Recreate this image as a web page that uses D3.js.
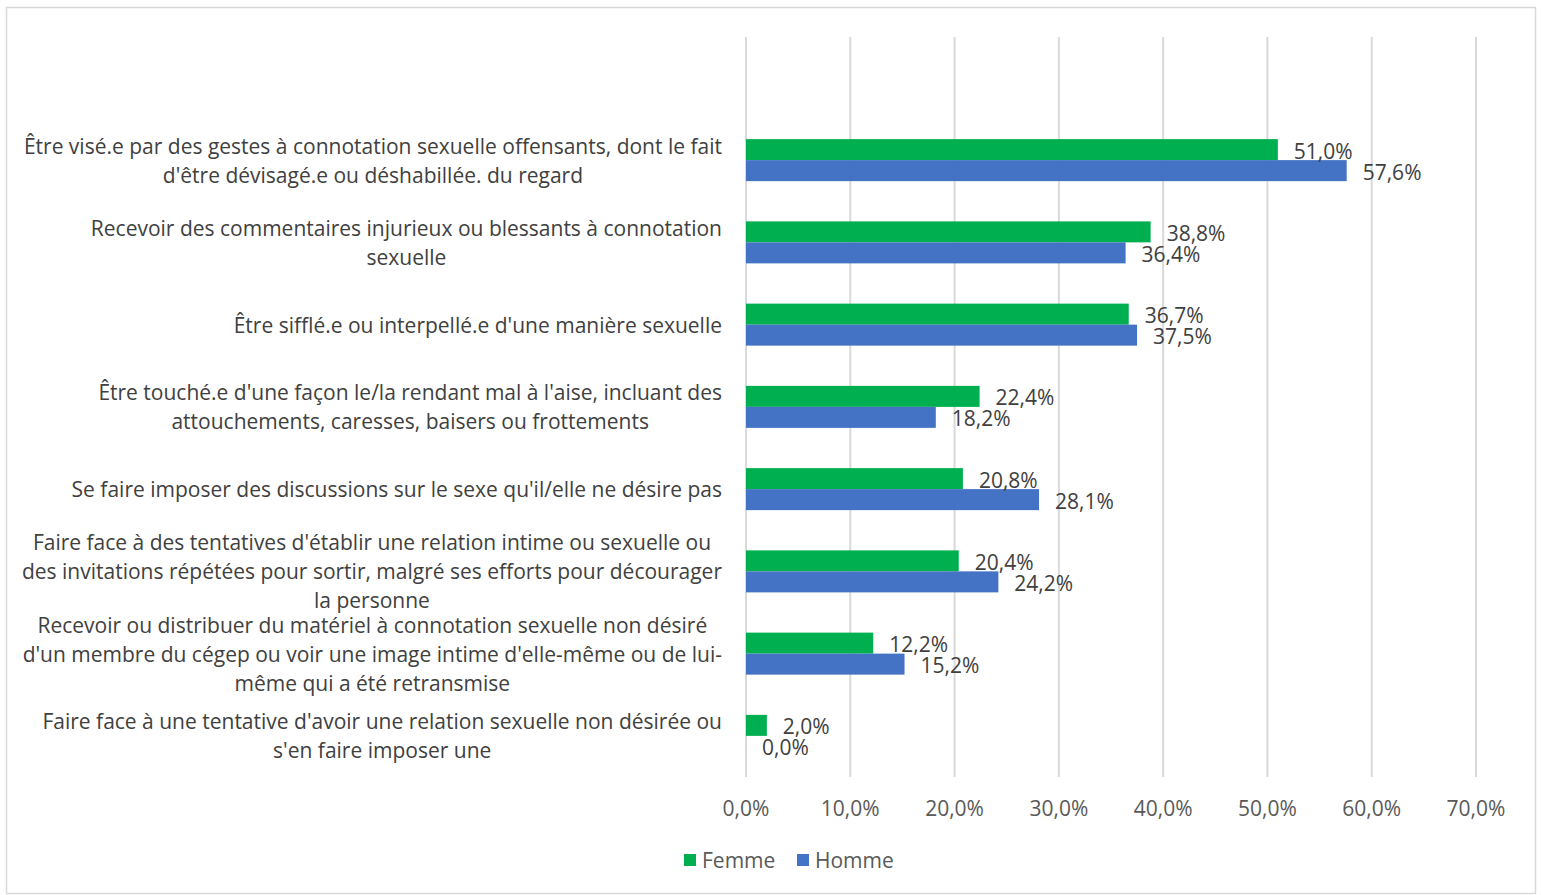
<!DOCTYPE html>
<html>
<head>
<meta charset="utf-8">
<script src="https://cdn.jsdelivr.net/npm/d3@7"></script>
<style>
  html, body { margin: 0; padding: 0; background: #fff; }
  svg text { font-family: "Open Sans", "Liberation Sans", sans-serif; }
</style>
</head>
<body>
<svg id="chart" width="1541" height="895"></svg>
<script>
// Categories, each with its label broken into display lines
const categories = [
  ["Être visé.e par des gestes à connotation sexuelle offensants, dont le fait", "d'être dévisagé.e ou déshabillée. du regard"],
  ["Recevoir des commentaires injurieux ou blessants à connotation", "sexuelle"],
  ["Être sifflé.e ou interpellé.e d'une manière sexuelle"],
  ["Être touché.e d'une façon le/la rendant mal à l'aise, incluant des", "attouchements, caresses, baisers ou frottements"],
  ["Se faire imposer des discussions sur le sexe qu'il/elle ne désire pas"],
  ["Faire face à des tentatives d'établir une relation intime ou sexuelle ou", "des invitations répétées pour sortir, malgré ses efforts pour décourager", "la personne"],
  ["Recevoir ou distribuer du matériel à connotation sexuelle non désiré", "d'un membre du cégep ou voir une image intime d'elle-même ou de lui-", "même qui a été retransmise"],
  ["Faire face à une tentative d'avoir une relation sexuelle non désirée ou", "s'en faire imposer une"]
];
const seriesNames = ["Femme", "Homme"];
const femme = [51.0, 38.8, 36.7, 22.4, 20.8, 20.4, 12.2, 2.0];
const homme = [57.6, 36.4, 37.5, 18.2, 28.1, 24.2, 15.2, 0.0];
const xTicks = [0, 10, 20, 30, 40, 50, 60, 70];
const colors = { Femme: "#00B050", Homme: "#4472C4" };

const svg = d3.select("#chart");
const fmt = v => d3.format(".1f")(v).replace(".", ",") + "%";
const fs = 21;

// Outer chart frame
svg.append("rect")
  .attr("x", 6.5).attr("y", 7.5).attr("width", 1529).attr("height", 886)
  .attr("fill", "#fff").attr("stroke", "#d9d9d9").attr("stroke-width", 1.5);

const plot = { left: 746, right: 1476, top: 37, bottom: 777, bandTop: 119 };

const x = d3.scaleLinear().domain([0, 70]).range([plot.left, plot.right]);
const idx = d3.range(categories.length);
const y = d3.scaleBand().domain(idx).range([plot.bandTop, plot.bottom]).paddingInner(0).paddingOuter(0);
const barH = 21;
const sub = d3.scaleBand().domain(seriesNames).range([0, barH * 2]);

// Vertical gridlines
svg.append("g").selectAll("line").data(xTicks).join("line")
  .attr("x1", d => x(d)).attr("x2", d => x(d))
  .attr("y1", plot.top).attr("y2", plot.bottom)
  .attr("stroke", "#d9d9d9").attr("stroke-width", 2);

// X axis tick labels
svg.append("g").selectAll("text").data(xTicks).join("text")
  .attr("x", d => x(d)).attr("y", 808)
  .attr("text-anchor", "middle").attr("dominant-baseline", "central")
  .attr("font-size", fs).attr("fill", "#595959")
  .text(d => fmt(d));

// Bars and value labels
const rows = idx.map(i => ({ i, vals: [{ s: "Femme", v: femme[i] }, { s: "Homme", v: homme[i] }] }));
const groups = svg.append("g").selectAll("g").data(rows).join("g")
  .attr("transform", d => `translate(0,${y(d.i) + y.bandwidth() / 2 - barH})`);

groups.selectAll("rect").data(d => d.vals).join("rect")
  .attr("x", x(0))
  .attr("y", d => sub(d.s))
  .attr("width", d => x(d.v) - x(0))
  .attr("height", barH)
  .attr("fill", d => colors[d.s]);

groups.selectAll("text").data(d => d.vals).join("text")
  .attr("x", d => x(d.v) + 16)
  .attr("y", d => sub(d.s) + barH / 2 + 1)
  .attr("dominant-baseline", "central")
  .attr("font-size", fs).attr("fill", "#404040")
  .text(d => fmt(d.v));

// Category labels: block right aligned at the axis, lines centred within the block
const lineH = 29;
const labelRight = 722;
const catG = svg.append("g").selectAll("text").data(idx).join("text")
  .attr("text-anchor", "middle")
  .attr("font-size", fs).attr("fill", "#404040");
catG.each(function (i) {
  const lines = categories[i];
  const cy = y(i) + y.bandwidth() / 2;
  const t = d3.select(this);
  const spans = lines.map((ln, k) => t.append("tspan")
    .attr("y", cy + (k - (lines.length - 1) / 2) * lineH)
    .attr("dominant-baseline", "central")
    .text(ln));
  const maxW = d3.max(spans, s => s.node().getComputedTextLength());
  spans.forEach(s => s.attr("x", labelRight - maxW / 2));
});

// Legend
const legend = svg.append("g").attr("transform", "translate(684,860)");
const legItems = [{ s: "Femme", x: 0 }, { s: "Homme", x: 113 }];
legend.selectAll("rect").data(legItems).join("rect")
  .attr("x", d => d.x).attr("y", -6).attr("width", 12).attr("height", 12)
  .attr("fill", d => colors[d.s]);
legend.selectAll("text").data(legItems).join("text")
  .attr("x", d => d.x + 18).attr("y", 0)
  .attr("dominant-baseline", "central")
  .attr("font-size", fs).attr("fill", "#595959")
  .text(d => d.s);
</script>
</body>
</html>
